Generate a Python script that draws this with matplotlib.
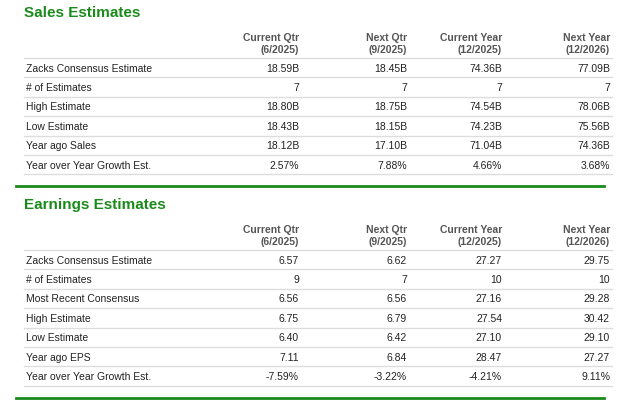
import matplotlib.pyplot as plt

plt.rcParams["font.family"] = "Liberation Sans"

col_heads = [("Current Qtr", "(6/2025)"), ("Next Qtr", "(9/2025)"),
             ("Current Year", "(12/2025)"), ("Next Year", "(12/2026)")]

sales_rows = ["Zacks Consensus Estimate", "# of Estimates", "High Estimate",
              "Low Estimate", "Year ago Sales", "Year over Year Growth Est."]
sales_cur_q = ["18.59B", "7", "18.80B", "18.43B", "18.12B", "2.57%"]
sales_next_q = ["18.45B", "7", "18.75B", "18.15B", "17.10B", "7.88%"]
sales_cur_y = ["74.36B", "7", "74.54B", "74.23B", "71.04B", "4.66%"]
sales_next_y = ["77.09B", "7", "78.06B", "75.56B", "74.36B", "3.68%"]

eps_rows = ["Zacks Consensus Estimate", "# of Estimates", "Most Recent Consensus",
            "High Estimate", "Low Estimate", "Year ago EPS", "Year over Year Growth Est."]
eps_cur_q = ["6.57", "9", "6.56", "6.75", "6.40", "7.11", "-7.59%"]
eps_next_q = ["6.62", "7", "6.56", "6.79", "6.42", "6.84", "-3.22%"]
eps_cur_y = ["27.27", "10", "27.16", "27.54", "27.10", "28.47", "-4.21%"]
eps_next_y = ["29.75", "10", "29.28", "30.42", "29.10", "27.27", "9.11%"]

W, H = 620, 402
fig = plt.figure(figsize=(W / 100, H / 100), dpi=100)
ax = fig.add_axes([0, 0, 1, 1])
ax.set_xlim(0, W)
ax.set_ylim(H, 0)
ax.axis("off")

green = "#1a8a1a"
col_x = [299, 407, 502, 610]
x0, x1 = 24, 612


def section(top, title, rows, cols):
    ax.text(x0, top, title, color=green, fontsize=11, fontweight="bold", va="center")
    hy = top + 25
    for x, (a, b) in zip(col_x, col_heads):
        ax.text(x, hy, a, ha="right", va="center", fontsize=7.5, fontweight="bold", color="#555555")
        ax.text(x, hy + 12, b, ha="right", va="center", fontsize=7.5, fontweight="bold", color="#555555")
    y = hy + 21
    ax.plot([x0, x1], [y, y], color="#dddddd", lw=1)
    for i, name in enumerate(rows):
        yc = y + 9.7 + i * 19.4
        ax.text(x0 + 2, yc, name, va="center", fontsize=7.5, color="#222222")
        for x, vals in zip(col_x, cols):
            ax.text(x, yc, vals[i], ha="right", va="center", fontsize=7.5, color="#222222")
        ax.plot([x0, x1], [yc + 9.7, yc + 9.7], color="#dddddd", lw=1)
    return y + len(rows) * 19.4


end = section(13, "Sales Estimates", sales_rows,
              [sales_cur_q, sales_next_q, sales_cur_y, sales_next_y])
ax.plot([16, 604], [end + 12, end + 12], color=green, lw=2)
end = section(205, "Earnings Estimates", eps_rows,
              [eps_cur_q, eps_next_q, eps_cur_y, eps_next_y])
ax.plot([16, 604], [end + 12, end + 12], color=green, lw=2)

fig.savefig("out.png", dpi=100, facecolor="white")
